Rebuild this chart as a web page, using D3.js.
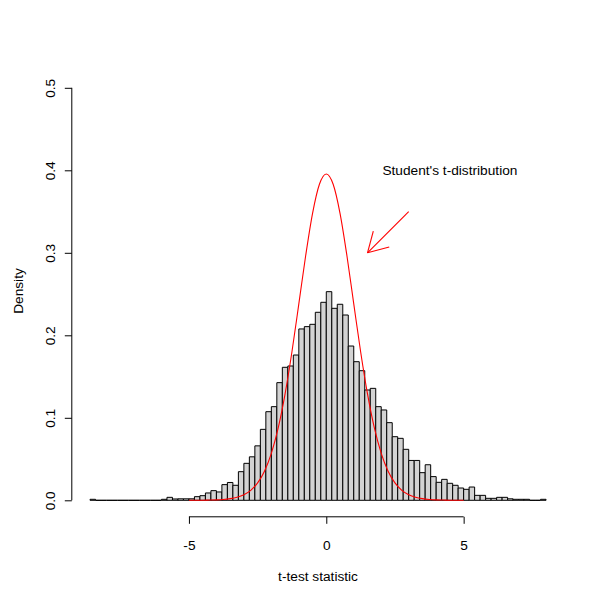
<!DOCTYPE html>
<html>
<head>
<meta charset="utf-8">
<script src="https://cdn.jsdelivr.net/npm/d3@7"></script>
<style>
  html, body { margin: 0; padding: 0; background: #fff; }
  svg { display: block; font-family: "Liberation Sans", Arial, Helvetica, sans-serif; }
</style>
</head>
<body>
<svg id="chart" width="600" height="600"></svg>
<script>
// ---- Data ----
const breaks = [-8.6,-8.4,-8.2,-8.0,-7.8,-7.6,-7.4,-7.2,-7.0,-6.8,-6.6,-6.4,-6.2,-6.0,-5.8,-5.6,-5.4,-5.2,-5.0,
  -4.8,-4.6,-4.4,-4.2,-4.0,-3.8,-3.6,-3.4,-3.2,-3.0,-2.8,-2.6,-2.4,-2.2,-2.0,-1.8,-1.6,-1.4,-1.2,-1.0,
  -0.8,-0.6,-0.4,-0.2,0.0,0.2,0.4,0.6,0.8,1.0,1.2,1.4,1.6,1.8,2.0,2.2,2.4,2.6,2.8,3.0,3.2,3.4,3.6,3.8,
  4.0,4.2,4.4,4.6,4.8,5.0,5.2,5.4,5.6,5.8,6.0,6.2,6.4,6.6,6.8,7.0,7.2,7.4,7.6,7.8,8.0];
const densities = [0.0012,0,0,0,0,0,0,0,0,0,0,0,0,
  0.0012,0.0036,0.0016,0.0018,0.0018,0.0018,0.0044,0.0056,0.0089,0.0117,0.0101,0.0190,0.0216,0.0182,
  0.0347,0.0448,0.0527,0.0660,0.0860,0.1074,0.1135,0.1426,0.1612,0.1628,0.1761,0.2077,0.2105,0.2133,0.2279,0.2400,
  0.2529,0.2327,0.2376,0.2246,0.1870,0.1680,0.1571,0.1337,0.1357,0.1135,0.1095,0.0941,0.0771,0.0751,0.0618,0.0483,
  0.0483,0.0335,0.0431,0.0287,0.0218,0.0254,0.0206,0.0182,0.0149,0.0133,0.0161,0.0060,0.0060,0.0024,0.0024,
  0.0036,0.0036,0.0018,0.0012,0.0012,0.0012,0,0,0.0012];
const curveX = [-5,-4.75,-4.5,-4.25,-4,-3.75,-3.5,-3.25,-3,-2.75,-2.5,-2.25,-2,-1.75,-1.5,-1.25,-1,-0.75,-0.5,-0.25,
  0,0.25,0.5,0.75,1,1.25,1.5,1.75,2,2.25,2.5,2.75,3,3.25,3.5,3.75,4,4.25,4.5,4.75,5];
const curveY = [0.0000,0.0001,0.0001,0.0003,0.0005,0.0010,0.0020,0.0037,0.0068,0.0121,0.0211,0.0353,0.0569,0.0877,
  0.1290,0.1801,0.2380,0.2967,0.3479,0.3831,0.3956,0.3831,0.3479,0.2967,0.2380,0.1801,0.1290,0.0877,0.0569,0.0353,
  0.0211,0.0121,0.0068,0.0037,0.0020,0.0010,0.0005,0.0003,0.0001,0.0001,0.0000];
const xTicks = [-5, 0, 5];
const xTickLabels = ["-5", "0", "5"];
const yTicks = [0.0, 0.1, 0.2, 0.3, 0.4, 0.5];
const yTickLabels = ["0.0", "0.1", "0.2", "0.3", "0.4", "0.5"];
const xLabel = "t-test statistic";
const yLabel = "Density";
const noteText = "Student's t-distribution";
const notePos = [4.5, 0.4];
const arrowFrom = [3, 0.35];
const arrowTo = [1.5, 0.3];

const FS = "13.7px";

// ---- Scales ----
const svg = d3.select("#chart");
const x = d3.scaleLinear().domain([-9.264, 8.664]).range([71.8, 564.3]);
const y = d3.scaleLinear().domain([-0.02, 0.52]).range([516.8, 71.3]);

// ---- Histogram bars (paths so empty bins show as a line) ----
const bins = densities.map((d, i) => ({x0: breaks[i], x1: breaks[i + 1], d}));
svg.append("g").selectAll("path").data(bins).join("path")
  .attr("d", b => `M${x(b.x0)},${y(0)}V${y(b.d)}H${x(b.x1)}V${y(0)}Z`)
  .attr("fill", "#d3d3d3")
  .attr("stroke", "#000")
  .attr("stroke-width", 1);

// ---- t density curve ----
const line = d3.line().x((d, i) => x(curveX[i])).y(d => y(d)).curve(d3.curveMonotoneX);
svg.append("path").datum(curveY)
  .attr("d", line)
  .attr("fill", "none")
  .attr("stroke", "#ff0000")
  .attr("stroke-width", 1.1);

// ---- Axes ----
const xAxis = svg.append("g").attr("transform", `translate(0,${y(-0.02)})`)
  .call(d3.axisBottom(x).tickValues(xTicks).tickSize(7).tickSizeOuter(0)
    .tickFormat((d, i) => xTickLabels[i]));
xAxis.select(".domain").remove();
xAxis.append("line")
  .attr("x1", x(xTicks[0])).attr("x2", x(xTicks[xTicks.length - 1]))
  .attr("stroke", "#000");
xAxis.selectAll(".tick line").attr("stroke", "#000");
xAxis.selectAll(".tick text")
  .attr("y", 23).attr("dy", "0.71em")
  .attr("fill", "#000").style("font-size", FS)
  .style("font-family", "Liberation Sans, Arial, sans-serif");

const yAxis = svg.append("g").attr("transform", `translate(${x(-9.264)},0)`)
  .call(d3.axisLeft(y).tickValues(yTicks).tickSize(7).tickSizeOuter(0)
    .tickFormat((d, i) => yTickLabels[i]));
yAxis.select(".domain").remove();
yAxis.append("line")
  .attr("y1", y(yTicks[0])).attr("y2", y(yTicks[yTicks.length - 1]))
  .attr("stroke", "#000");
yAxis.selectAll(".tick line").attr("stroke", "#000");
yAxis.selectAll(".tick text")
  .attr("x", null)
  .attr("text-anchor", "middle")
  .attr("transform", "translate(-22,0) rotate(-90)")
  .attr("dy", "0.35em")
  .attr("fill", "#000").style("font-size", FS)
  .style("font-family", "Liberation Sans, Arial, sans-serif");

// ---- Axis titles ----
svg.append("text")
  .attr("x", (x.range()[0] + x.range()[1]) / 2).attr("y", 581)
  .attr("text-anchor", "middle").style("font-size", FS).attr("fill", "#000")
  .text(xLabel);
svg.append("text")
  .attr("transform", `translate(23,${(y.range()[0] + y.range()[1]) / 2 - 3}) rotate(-90)`)
  .attr("text-anchor", "middle").style("font-size", FS).attr("fill", "#000")
  .text(yLabel);

// ---- Annotation ----
svg.append("text")
  .attr("x", x(notePos[0])).attr("y", y(notePos[1]))
  .attr("dy", "0.35em")
  .attr("text-anchor", "middle").style("font-size", FS).attr("fill", "#000")
  .text(noteText);

const ax0 = x(arrowFrom[0]), ay0 = y(arrowFrom[1]);
const ax1 = x(arrowTo[0]), ay1 = y(arrowTo[1]);
const ang = Math.atan2(ay0 - ay1, ax0 - ax1);
const headLen = 22.5, headAng = Math.PI / 6;
const arrowG = svg.append("g").attr("stroke", "#ff0000").attr("stroke-width", 1.1).attr("fill", "none");
arrowG.append("line").attr("x1", ax0).attr("y1", ay0).attr("x2", ax1).attr("y2", ay1);
[ang - headAng, ang + headAng].forEach(a => {
  arrowG.append("line")
    .attr("x1", ax1).attr("y1", ay1)
    .attr("x2", ax1 + headLen * Math.cos(a))
    .attr("y2", ay1 + headLen * Math.sin(a));
});
</script>
</body>
</html>
